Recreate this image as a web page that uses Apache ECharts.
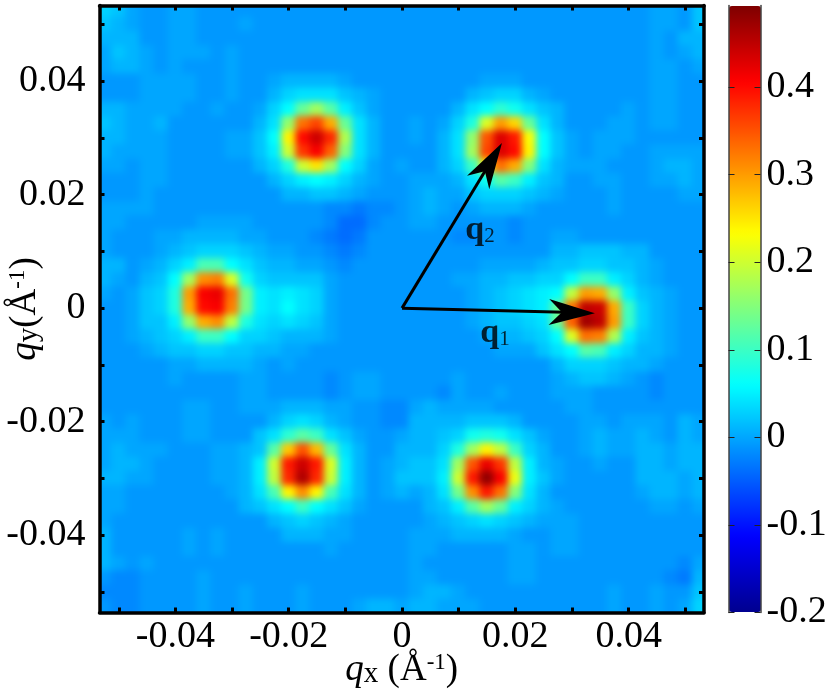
<!DOCTYPE html>
<html>
<head>
<meta charset="utf-8">
<title>qx qy map</title>
<script src="https://cdn.jsdelivr.net/npm/echarts@6/dist/echarts.min.js"></script>
<style>
  html, body { margin: 0; padding: 0; background: #fff; }
  #chart { width: 830px; height: 694px; }
</style>
</head>
<body>
<div id="chart"></div>
<script>
// cell centres, same for qx and qy
const qCells = [-0.0525,-0.05,-0.0475,-0.045,-0.0425,-0.04,-0.0375,-0.035,-0.0325,-0.03,-0.0275,-0.025,-0.0225,-0.02,-0.0175,-0.015,-0.0125,-0.01,-0.0075,-0.005,-0.0025,0,0.0025,0.005,0.0075,0.01,0.0125,0.015,0.0175,0.02,0.0225,0.025,0.0275,0.03,0.0325,0.035,0.0375,0.04,0.0425,0.045,0.0475,0.05,0.0525];
const qStep = 0.0025;

// intensity, in 0.01 units. first row is the top of the map (qy = 0.0525)
const intensity = [
[3,2,0,-1,-1,0,0,-1,-1,-1, -1,-1,-1,-1,-1,-1,-1,-1,-1,-1, -1,-1,-1,-1,-1,-1,-1,-1,-1,-1, -1,-1,-1,-1,-1,-1,-1,-1,-1,0,0,-1,2],
[2,1,0,-1,-1,0,0,-1,-1,-1, 0,-1,-1,-1,-1,-1,-1,-1,-1,-1, -1,-1,-1,-1,-1,-1,-1,-1,-1,-1, -1,-1,-1,-1,-1,-1,-1,-1,-1,0,0,-1,2],
[1,1,1,-1,-1,0,0,-1,-1,-1, -1,-1,-1,-1,-1,-1,-1,-1,-1,-1, -1,-1,-1,-1,-1,-1,-1,-1,-1,-1, -1,-1,-1,-1,-1,-1,-1,-1,-1,0,-1,1,1],
[0,2,1,0,-1,0,0,0,-1,0, -1,-1,-1,-1,-1,-1,-1,-1,-1,-1, -1,-1,-1,-1,-1,-1,-1,-1,-1,-1, -1,-1,-1,-1,-1,-1,-1,-1,-1,0,-1,0,1],
[0,1,1,0,-1,0,-1,-1,-1,0, -1,-1,-1,-1,-1,-1,-1,-1,-1,-1, -1,-1,-1,-1,-1,-1,-1,-1,-1,-1, -1,-1,-1,-1,-1,-1,-1,-1,-1,0,0,-1,0],
[-1,-1,-1,0,0,0,0,-1,-1,0, -1,-1,0,1,1,1,1,0,-1,-1, -1,-1,-1,-1,-1,-1,-1,0,0,0, -1,-1,-1,-1,-1,-1,-1,-1,-1,0,0,-1,-1],
[-1,-1,-1,0,0,0,0,-1,-1,0, -1,-1,1,3,4,4,4,2,1,0, -1,-1,-1,-1,-1,-1,1,2,3,3, 1,0,-1,-1,-1,-1,-1,-1,-1,0,0,-1,-1],
[1,1,0,0,0,0,-1,-1,0,-1, -1,0,3,6,13,17,12,5,2,0, -1,-1,-1,-1,-1,1,4,6,9,7, 4,2,1,-1,-1,-1,-1,0,-1,0,0,-1,-1],
[2,1,0,0,1,-1,-1,-1,-1,-1, -1,1,4,16,33,36,29,13,4,1, -1,-1,0,-1,0,3,8,21,30,26, 13,4,1,-1,-1,-1,0,0,-1,0,0,-1,-1],
[1,1,0,0,0,-1,-1,-1,-1,0, 0,2,6,24,40,44,38,18,4,1, -1,-1,0,-1,1,4,16,35,43,39, 23,6,2,0,-1,0,0,0,-1,-1,-1,-1,-1],
[1,0,0,0,0,-1,-1,-1,-1,0, 0,2,5,20,37,41,34,15,4,1, -1,-1,-1,-1,1,4,17,36,43,40, 24,6,2,0,-1,0,0,-1,-1,0,0,0,0],
[0,0,-1,0,0,-1,-1,-1,-1,-1, -1,1,3,8,20,25,17,6,3,0, -1,0,-1,-1,1,3,10,24,33,29, 15,4,1,0,0,0,-1,-1,-1,0,1,1,0],
[-1,-1,-1,0,0,-1,-1,-1,-1,-1, -1,-1,1,3,5,6,5,3,1,0, -1,-1,0,0,0,1,4,7,12,10, 5,2,1,-1,-1,0,0,-1,-1,0,0,1,0],
[-1,-1,-1,0,-1,-1,-1,-1,-1,-1, -1,-1,-1,1,1,2,2,1,0,-1, -1,-1,0,1,0,0,2,3,3,3, 2,1,0,-1,-1,-1,0,-1,-1,-1,-1,0,0],
[0,0,0,0,-1,-1,-1,-1,-1,-1, -1,-1,-1,-1,-1,-1,-2,-2,-3,-2, -2,-1,0,1,0,-1,0,1,1,1, 0,-1,-1,-1,-1,-1,0,-1,-1,-1,-1,-1,-1],
[0,0,-1,-1,-1,-1,-1,0,0,0, 0,-1,-1,-1,-1,-1,-2,-4,-4,-2, -1,-1,0,0,-1,-1,-1,-1,-1,-2, -1,-1,-1,-1,-1,-1,-1,-1,-1,-1,-1,-1,-1],
[0,-1,-1,-1,0,0,1,1,1,1, 0,0,-1,-1,-1,-2,-3,-4,-3,-1, -1,-1,-1,-1,-1,-2,-2,-1,-1,-2, -1,-1,0,0,-1,-1,-1,-1,-1,-1,-1,-1,-1],
[0,-1,-1,-1,0,1,2,3,3,3, 2,1,0,0,-1,-1,-2,-3,-2,-1, -1,-1,-1,-1,-1,-1,-1,-1,-1,-1, -1,-1,1,1,2,2,2,1,1,-1,-1,-1,-1],
[1,1,-1,0,1,3,5,11,11,6, 4,2,1,1,0,0,-1,-2,-1,-1, -1,-1,-1,-1,-1,-1,-1,0,0,0, 0,1,2,2,3,3,2,2,1,0,-1,-1,-1],
[1,0,-1,1,2,6,17,31,32,21, 7,3,2,2,2,2,0,-1,-1,-1, -1,-1,-1,-1,-1,0,0,1,1,2, 2,3,3,6,10,10,5,3,1,0,-1,-1,-1],
[0,-1,0,2,3,8,30,41,42,33, 14,5,4,5,4,3,0,-1,-1,-1, -1,-1,-1,-1,-1,-1,0,1,2,3, 4,5,6,19,30,29,16,5,2,1,0,-1,-1],
[-1,-1,0,2,3,8,29,40,41,32, 14,5,4,6,4,3,0,-1,-1,-1, -1,-1,-1,-1,-1,-1,0,1,2,3, 4,5,13,33,45,44,29,10,3,1,0,-1,-1],
[-1,-1,0,2,2,5,16,29,31,19, 8,4,3,4,3,2,0,-1,-1,-1, -1,-1,-1,-1,-1,-1,0,1,2,2, 3,4,13,34,47,45,30,10,3,1,0,-1,-1],
[-1,-1,0,1,2,3,5,10,10,6, 3,3,2,1,1,1,0,-1,-1,-1, -1,-1,-1,-1,-1,-1,-1,0,1,1, 2,3,6,21,33,32,18,5,2,1,0,-1,-1],
[-1,-1,-1,0,1,2,2,3,3,2, 2,1,1,0,0,-1,-1,-1,-1,-1, -1,-1,-1,-1,-1,-1,-1,-1,0,0, 0,2,4,6,12,11,5,3,1,1,0,-1,-1],
[-1,-1,-1,-1,-1,0,0,1,1,1, 1,0,-1,0,-1,-1,-1,-1,-1,-1, -1,-1,-1,-1,-1,-1,-1,-1,-1,-1, -1,-1,1,3,3,3,2,1,1,0,-1,-1,-1],
[-1,-1,-1,-1,-1,0,-1,-1,-1,-1, 0,0,-1,-1,-1,-1,-2,-1,0,0, -1,-1,-1,-1,-1,0,-1,-1,-1,-1, -1,-1,0,1,2,2,1,0,-1,-2,-1,-1,-1],
[-1,-1,-1,-1,-1,-1,-1,-1,-1,-1, 0,0,-1,-1,-1,-1,-2,-1,0,0, -1,-1,-1,-1,-2,0,-1,-1,0,-1, -1,-1,0,0,0,-1,-1,-1,-1,-2,-1,-1,-1],
[-1,-1,-1,-1,-1,-1,0,0,-1,-1, 0,0,0,1,1,1,0,0,-1,-1, -2,-2,0,1,0,0,0,0,-1,-1, -1,-1,-1,0,0,-1,-1,-1,-1,-1,-1,-1,-1],
[0,-1,0,-1,-1,-1,0,0,-1,-1, -1,-1,1,3,4,3,1,0,-1,-1, -2,-2,1,1,1,1,2,2,2,1, -1,-1,-1,-1,0,0,-1,0,0,0,-1,1,0],
[0,0,0,-1,-1,-1,0,0,-1,-1, -1,2,4,9,12,10,4,2,0,-1, -1,0,1,1,2,3,7,8,7,4, 2,0,-1,-1,0,1,0,0,1,0,-1,1,0],
[0,1,0,0,0,-1,-1,-1,0,0, 1,2,12,27,35,28,13,4,1,-1, -1,1,1,1,3,8,17,24,19,10, 3,1,-1,-1,0,1,0,0,1,1,0,1,1],
[0,1,1,0,-1,-1,-1,-1,0,0, 1,5,20,39,44,39,21,5,1,-1, 0,1,2,2,4,17,35,42,37,19, 5,1,0,-1,-1,0,-1,-1,1,1,0,1,1],
[1,1,0,0,-1,-1,-1,-1,0,0, 1,5,19,38,46,38,20,5,1,-1, 0,2,2,2,5,20,39,48,41,22, 5,2,0,-1,-1,-1,-1,-1,1,1,1,0,1],
[0,0,-1,-1,-1,-1,-1,-1,-1,0, 1,4,11,24,31,24,11,4,1,-1, 0,1,0,1,4,14,31,39,33,15, 4,1,-1,-1,-1,-1,-1,-1,0,1,1,0,1],
[0,0,-1,-1,-1,-1,-1,-1,-1,-1, 1,2,4,6,10,6,4,2,0,-1, -1,-1,-1,1,2,5,12,17,13,5, 3,1,0,-1,-1,-1,-1,-1,-1,0,0,-1,0],
[0,-1,-1,-1,-1,-1,-1,-1,-1,-1, -1,-1,1,2,3,2,1,0,-1,-1, -1,-1,-1,0,1,2,3,4,3,2, 1,0,0,0,-1,-1,-1,-1,-1,-1,-1,-1,-1],
[1,-1,-1,-1,-1,-1,0,-1,0,-1, -1,-1,-1,1,1,1,0,0,-1,-1, -1,-1,0,0,0,1,1,1,1,0, -1,-1,0,0,-1,-1,-1,-1,-1,-1,-1,-1,-1],
[1,-1,-1,-1,-1,-1,0,-1,0,-1, -1,-1,-1,-1,-1,-1,0,-1,-1,-1, -1,-1,0,0,-1,-1,-1,-1,-1,0, 0,-1,0,0,-1,-1,-1,-1,-1,-1,-1,-1,-1],
[1,0,-1,0,-1,-1,-1,-1,-1,-1, -1,-1,-1,-1,-1,-1,-1,-1,-1,-1, -1,-1,0,-1,-1,-1,-1,-1,-1,0, 0,-1,-1,-1,-1,-1,-1,-1,-1,-1,-1,-2,0],
[-1,-2,-2,-1,-1,-1,-1,0,-1,-1, -1,-1,-1,-1,-1,-1,-1,-1,-1,-1, -1,-1,0,0,-1,-1,-1,-1,-1,0, 0,-1,-1,-1,-1,-1,-1,-1,-1,-1,-2,-3,1],
[-2,-2,-2,-1,-1,-1,-1,0,-1,-1, 0,-1,-1,-1,0,-1,-1,-1,-1,-1, -1,-1,0,1,1,0,-1,-1,-1,-1, -1,-1,-1,-1,-1,-1,0,-1,-1,0,-1,-1,2],
[-1,-2,-2,-1,-1,-1,-1,0,-1,-1, 0,-1,-1,-1,0,-1,-1,-1,0,1, 1,0,1,1,0,0,0,-1,-1,-1, -1,-1,-1,-1,-1,-1,0,-1,-1,0,-1,0,3]
];

const xTicks = [-0.05,-0.04,-0.03,-0.02,-0.01,0,0.01,0.02,0.03,0.04,0.05];
const qLabels = [-0.04,-0.02,0,0.02,0.04];
const barTicks = [-0.2,-0.1,0,0.1,0.2,0.3,0.4];

const arrowOrigin = [0, 0];
const q1Tip = [0.03404, -0.00088];
const q2Tip = [0.01764, 0.02907];
const q1LabelAt = [0.0164, -0.0044];
const q2LabelAt = [0.01376, 0.01374];

const jet = ['#00008f','#0000ff','#007fff','#00ffff','#7fff7f','#ffff00','#ff7f00','#ff0000','#7f0000'];
const serif = '"Liberation Serif", serif';

let cells = [];
intensity.forEach((row, j) => {
  row.forEach((v, i) => {
    cells.push([qCells[i], qCells[qCells.length - 1 - j], v / 100, i, j]);
  });
});

function fmt(v) {
  return v === 0 ? '0' : String(v);
}

function drawCell(params, api) {
  const c = api.coord([api.value(0), api.value(1)]);
  const s = api.size([qStep, qStep]);
  const last = qCells.length - 1;
  // edge cells run on past the frame so the blur does not fade there
  const left = api.value(3) === 0 ? 20 : 0;
  const right = api.value(3) === last ? 20 : 0;
  const top = api.value(4) === 0 ? 20 : 0;
  const bottom = api.value(4) === last ? 20 : 0;
  return {
    type: 'rect',
    shape: {
      x: c[0] - s[0] / 2 - left - 0.5,
      y: c[1] - s[1] / 2 - top - 0.5,
      width: s[0] + left + right + 1,
      height: s[1] + top + bottom + 1
    },
    style: { fill: api.visual('color') }
  };
}

function drawArrow(params, api) {
  const o = api.coord(arrowOrigin);
  const t = api.coord([api.value(0), api.value(1)]);
  const a = Math.atan2(t[1] - o[1], t[0] - o[0]);
  const at = (back, side) => [
    t[0] - back * Math.cos(a) - side * Math.sin(a),
    t[1] - back * Math.sin(a) + side * Math.cos(a)
  ];
  return {
    type: 'group',
    children: [
      {
        type: 'line',
        shape: { x1: o[0], y1: o[1], x2: at(30, 0)[0], y2: at(30, 0)[1] },
        style: { stroke: '#000', lineWidth: 3 }
      },
      {
        type: 'polygon',
        shape: { points: [at(0, 0), at(46, 13), at(33, 0), at(46, -13)] },
        style: { fill: '#000' }
      }
    ]
  };
}

function frameAxis(extra) {
  return Object.assign({
    type: 'value',
    gridIndex: 0,
    axisLine: { onZero: false, lineStyle: { color: '#000', width: 3.5 } },
    axisTick: { inside: true, length: 5, customValues: xTicks, lineStyle: { color: '#000', width: 3 } },
    axisLabel: { show: false },
    splitLine: { show: false },
    z: 5
  }, extra);
}

const nameRich = {
  q: { fontFamily: serif, fontStyle: 'italic', fontSize: 37, color: '#000' },
  sub: { fontFamily: serif, fontSize: 29, color: '#000', verticalAlign: 'bottom' },
  t: { fontFamily: serif, fontSize: 37, color: '#000' },
  sup: { fontFamily: serif, fontSize: 23, color: '#000', verticalAlign: 'top' }
};

const option = {
  animation: false,
  grid: [
    { left: 99.5, top: 5.5, width: 604.5, height: 607, outerBoundsMode: 'none' },
    { left: 728.5, top: 5.5, width: 32, height: 607, outerBoundsMode: 'none' }
  ],
  xAxis: [
    frameAxis({
      position: 'bottom', min: -0.0534, max: 0.0533,
      axisLabel: {
        show: true, customValues: qLabels, formatter: fmt, margin: 6,
        fontFamily: serif, fontSize: 38, color: '#000'
      },
      name: '{q|q}{sub|x}{t| (Å}{sup|-1}{t|)}',
      nameLocation: 'middle',
      nameGap: 39,
      nameMoveOverlap: false,
      nameTextStyle: { rich: nameRich }
    }),
    frameAxis({ position: 'top', min: -0.0534, max: 0.0533 }),
    { type: 'value', gridIndex: 1, min: 0, max: 1, show: false }
  ],
  yAxis: [
    frameAxis({
      position: 'left', min: -0.0536, max: 0.0533,
      axisLabel: {
        show: true, customValues: qLabels, formatter: fmt, margin: 14,
        fontFamily: serif, fontSize: 38, color: '#000'
      },
      name: '{q|q}{sub|y}{t|(Å}{sup|-1}{t|)}',
      nameLocation: 'middle',
      nameGap: 56,
      nameRotate: 90,
      nameMoveOverlap: false,
      nameTextStyle: { rich: nameRich }
    }),
    frameAxis({ position: 'right', min: -0.0536, max: 0.0533 }),
    {
      type: 'value', gridIndex: 1, position: 'left', min: -0.2, max: 0.4931, z: 5,
      axisLine: { onZero: false, lineStyle: { color: '#444', width: 1.5 } },
      axisTick: { inside: true, length: 6, customValues: barTicks, lineStyle: { color: '#222', width: 1 } },
      axisLabel: { show: false },
      splitLine: { show: false }
    },
    {
      type: 'value', gridIndex: 1, position: 'right', min: -0.2, max: 0.4931, z: 5,
      axisLine: { onZero: false, lineStyle: { color: '#444', width: 1.5 } },
      axisTick: { inside: true, length: 6, customValues: barTicks, lineStyle: { color: '#222', width: 1 } },
      axisLabel: {
        customValues: barTicks, formatter: fmt, margin: 6,
        fontFamily: serif, fontSize: 38, color: '#000'
      },
      splitLine: { show: false }
    }
  ],
  visualMap: {
    type: 'continuous',
    min: -0.2,
    max: 0.4931,
    dimension: 2,
    seriesIndex: 0,
    left: 729,
    top: 6,
    itemWidth: 32,
    itemHeight: 606,
    padding: 0,
    calculable: false,
    hoverLink: false,
    z: 0,
    inRange: { color: jet }
  },
  series: [
    {
      type: 'custom',
      coordinateSystem: 'cartesian2d',
      xAxisIndex: 0,
      yAxisIndex: 0,
      zlevel: -1,
      clip: false,
      silent: true,
      renderItem: drawCell,
      encode: { x: 0, y: 1 },
      data: cells
    },
    {
      type: 'custom',
      coordinateSystem: 'cartesian2d',
      xAxisIndex: 0,
      yAxisIndex: 0,
      silent: true,
      z: 6,
      renderItem: drawArrow,
      encode: { x: 0, y: 1 },
      data: [q1Tip, q2Tip]
    },
    {
      type: 'scatter',
      xAxisIndex: 0,
      yAxisIndex: 0,
      symbolSize: 0,
      silent: true,
      z: 7,
      label: {
        show: true,
        position: 'inside',
        formatter: p => '{q|q}{sub|' + p.name + '}',
        rich: {
          q: { fontFamily: serif, fontWeight: 'bold', fontSize: 34, color: '#000' },
          sub: { fontFamily: serif, fontSize: 21, color: '#000', verticalAlign: 'bottom' }
        }
      },
      data: [
        { name: '1', value: q1LabelAt },
        { name: '2', value: q2LabelAt }
      ]
    }
  ]
};

let chart = echarts.init(document.getElementById('chart'), null, { renderer: 'canvas' });
chart.setOption(option);

// the map sits on its own canvas layer: soften the cells into a smooth field, keep it inside the frame
const layers = document.querySelectorAll('#chart canvas');
const heatLayer = document.querySelector('#chart canvas[data-zr-dom-id="zr_-1"]') || layers[0];
heatLayer.style.filter = 'blur(3.5px)';
heatLayer.style.clipPath = 'polygon(100px 6px, 704px 6px, 704px 612px, 100px 612px)';
</script>
</body>
</html>
